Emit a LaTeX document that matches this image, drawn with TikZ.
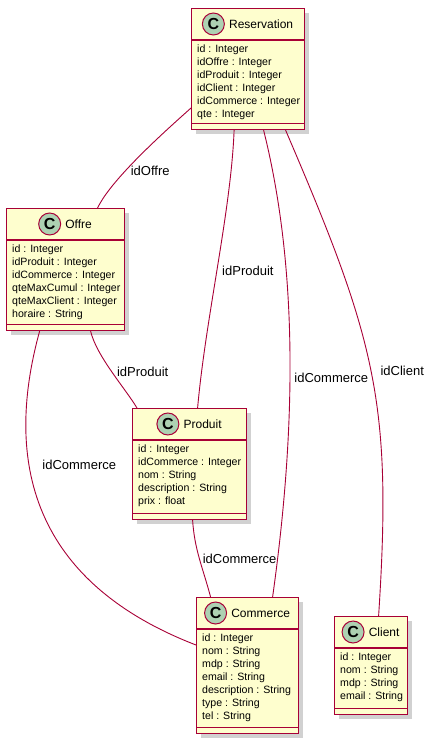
\documentclass[tikz,border=0pt]{standalone}
\usepackage{fontspec}
\setmainfont{Liberation Sans}
\usetikzlibrary{positioning,shadows}
\definecolor{umlred}{HTML}{A80036}
\definecolor{umlfill}{HTML}{FEFECE}
\definecolor{umlgreen}{HTML}{ADD1B2}
\tikzset{
  cls/.style={draw=umlred, fill=umlfill, line width=1.2pt, inner sep=0, anchor=north west,
    drop shadow={shadow xshift=4pt, shadow yshift=-4pt, fill=black!40, opacity=0.45}},
  divline/.style={draw=umlred, line width=1.2pt},
  badge/.style={circle, draw=umlred, fill=umlgreen, line width=1pt, minimum size=22, inner sep=0,
    font=\bfseries\fontsize{16}{16}\selectfont},
  classname/.style={inner sep=0, font=\fontsize{12}{14}\selectfont},
  attrs/.style={inner sep=0, anchor=north west, align=left, font=\fontsize{10.6}{13}\selectfont},
  link/.style={draw=umlred, line width=0.9pt},
  lbl/.style={inner sep=1pt, anchor=west, font=\fontsize{13}{15}\selectfont},
}
\begin{document}
\begin{tikzpicture}[x=1pt, y=-1pt]
        \useasboundingbox (0,0) rectangle (433,744);

        % Reservation
        \node[cls, minimum width=113, minimum height=121] (res) at (191,8) {};
        \draw[divline] ([yshift=-32]res.north west) -- ([yshift=-32]res.north east);
        \draw[divline] ([yshift=7]res.south west) -- ([yshift=7]res.south east);
        \node[classname] (rest) at ([xshift=13, yshift=-16]res.north) {Reservation};
        \node[badge, left=4pt of rest] (resc) {C};
        \node[attrs] (resa) at ([xshift=6, yshift=-37]res.north west) {id : Integer\\idOffre : Integer\\idProduit : Integer\\idClient : Integer\\idCommerce : Integer\\qte : Integer};

        % Offre
        \node[cls, minimum width=118, minimum height=122] (off) at (6,208) {};
        \draw[divline] ([yshift=-32]off.north west) -- ([yshift=-32]off.north east);
        \draw[divline] ([yshift=7]off.south west) -- ([yshift=7]off.south east);
        \node[classname] (offt) at ([xshift=13, yshift=-16]off.north) {Offre};
        \node[badge, left=4pt of offt] (offc) {C};
        \node[attrs] (offa) at ([xshift=6, yshift=-37]off.north west) {id : Integer\\idProduit : Integer\\idCommerce : Integer\\qteMaxCumul : Integer\\qteMaxClient : Integer\\horaire : String};

        % Produit
        \node[cls, minimum width=114, minimum height=111] (prod) at (132,408) {};
        \draw[divline] ([yshift=-32]prod.north west) -- ([yshift=-32]prod.north east);
        \draw[divline] ([yshift=7]prod.south west) -- ([yshift=7]prod.south east);
        \node[classname] (prodt) at ([xshift=13, yshift=-16]prod.north) {Produit};
        \node[badge, left=4pt of prodt] (prodc) {C};
        \node[attrs] (proda) at ([xshift=6, yshift=-37]prod.north west) {id : Integer\\idCommerce : Integer\\nom : String\\description : String\\prix : float};

        % Commerce
        \node[cls, minimum width=102, minimum height=136] (com) at (196,597) {};
        \draw[divline] ([yshift=-32]com.north west) -- ([yshift=-32]com.north east);
        \draw[divline] ([yshift=7]com.south west) -- ([yshift=7]com.south east);
        \node[classname] (comt) at ([xshift=13, yshift=-16]com.north) {Commerce};
        \node[badge, left=4pt of comt] (comc) {C};
        \node[attrs] (coma) at ([xshift=6, yshift=-37]com.north west) {id : Integer\\nom : String\\mdp : String\\email : String\\description : String\\type : String\\tel : String};

        % Client
        \node[cls, minimum width=73, minimum height=98] (cli) at (334,616) {};
        \draw[divline] ([yshift=-32]cli.north west) -- ([yshift=-32]cli.north east);
        \draw[divline] ([yshift=7]cli.south west) -- ([yshift=7]cli.south east);
        \node[classname] (clit) at ([xshift=13, yshift=-16]cli.north) {Client};
        \node[badge, left=4pt of clit] (clic) {C};
        \node[attrs] (clia) at ([xshift=6, yshift=-37]cli.north west) {id : Integer\\nom : String\\mdp : String\\email : String};

        % associations
        \draw[link] ([yshift=-100]res.north west) .. controls +(-20,18) and +(14,-30) .. ([xshift=32]off.north)
            node[lbl, pos=.65, xshift=4] (l1) {idOffre};
        \draw[link] ([xshift=-14]res.south) .. controls +(-3,80) and +(8,-90) .. ([xshift=8]prod.north)
            node[lbl, pos=.52, xshift=4] (l2) {idProduit};
        \draw[link] ([xshift=15.5]res.south) .. controls +(37.5,150) and +(21,-150) .. ([xshift=25]com.north)
            node[lbl, pos=.53, xshift=3] (l3) {idCommerce};
        \draw[link] ([xshift=37.5]res.south) .. controls +(90,210) and +(14,-215) .. ([xshift=7.5]cli.north)
            node[lbl, pos=.5, xshift=8] (l4) {idClient};
        \draw[link] ([xshift=25]off.south) .. controls +(6,25) and +(-12,-20) .. ([xshift=5]prod.north west)
            node[lbl, pos=.5, xshift=4] (l5) {idProduit};
        \draw[link] ([xshift=-26]off.south) .. controls +(-30,109) and +(-181,-70) .. ([yshift=-48]com.north west)
            node[lbl, pos=.39, xshift=12] (l6) {idCommerce};
        \draw[link] ([xshift=3]prod.south) .. controls +(2,30) and +(-8,-30) .. ([xshift=-37]com.north)
            node[lbl, pos=.5, xshift=2] (l7) {idCommerce};

\end{tikzpicture}
\end{document}
